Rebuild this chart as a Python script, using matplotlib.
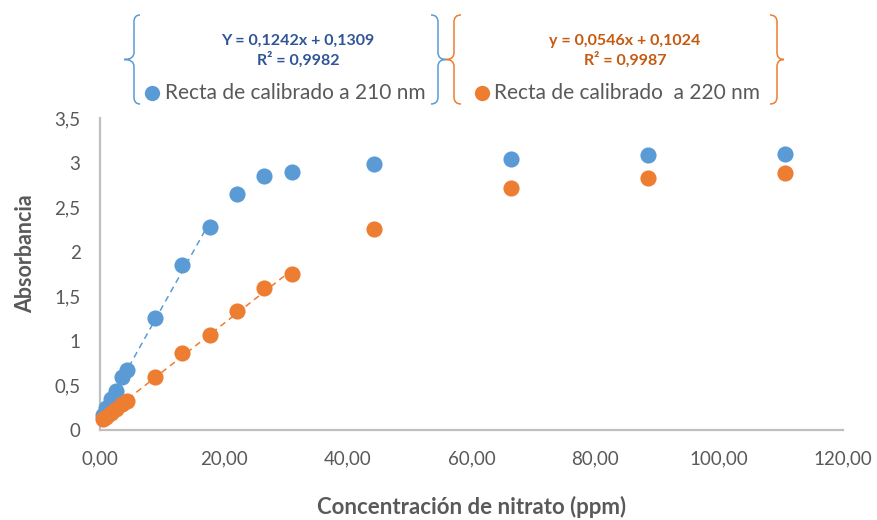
import matplotlib
matplotlib.use("Agg")
import matplotlib.pyplot as plt
from matplotlib.path import Path
from matplotlib.patches import PathPatch
from matplotlib.ticker import FuncFormatter, MultipleLocator
import numpy as np

plt.rcParams['font.family'] = ['Lato', 'DejaVu Sans']

# Concentración de nitrato (ppm)
conc = [0.44, 0.89, 1.77, 2.66, 3.54, 4.43, 8.85, 13.28, 17.70, 22.13,
        26.55, 30.98, 44.26, 66.39, 88.52, 110.65]
# Absorbancia a 210 nm
abs_210 = [0.17, 0.25, 0.35, 0.44, 0.59, 0.67, 1.26, 1.85, 2.28, 2.65,
           2.85, 2.89, 2.98, 3.04, 3.08, 3.10]
# Absorbancia a 220 nm
abs_220 = [0.12, 0.15, 0.19, 0.23, 0.29, 0.33, 0.60, 0.86, 1.07, 1.33,
           1.59, 1.75, 2.26, 2.71, 2.83, 2.88]

# Tramos lineales usados en cada recta de calibrado
fit_210 = (0.1242, 0.1309, 0.44, 17.70)
fit_220 = (0.0546, 0.1024, 0.44, 30.98)

eq_210 = ["Y = 0,1242x + 0,1309", "R² = 0,9982"]
eq_220 = ["y = 0,0546x + 0,1024", "R² = 0,9987"]
label_210 = "Recta de calibrado a 210 nm"
label_220 = "Recta de calibrado  a 220 nm"

BLUE = "#5B9BD5"
ORANGE = "#ED7D31"
GRAY_TXT = "#595959"
AX_GRAY = "#BFBFBF"

W, H = 878, 520
fig = plt.figure(figsize=(W / 100, H / 100), dpi=100)
ax = fig.add_axes([100 / W, 1 - 430 / H, 743 / W, 312 / H])

for (m, b, x0, x1), col in ((fit_210, BLUE), (fit_220, ORANGE)):
    xs = np.array([x0, x1])
    ax.plot(xs, m * xs + b, linestyle=(0, (4, 3)), color=col, lw=1.1, zorder=2)

ax.scatter(conc, abs_210, s=135, color=BLUE, zorder=3, linewidths=0)
ax.scatter(conc, abs_220, s=135, color=ORANGE, zorder=4, linewidths=0)

ax.set_xlim(0, 120)
ax.set_ylim(0, 3.5)
ax.xaxis.set_major_locator(MultipleLocator(20))
ax.yaxis.set_major_locator(MultipleLocator(0.5))
ax.xaxis.set_major_formatter(FuncFormatter(lambda v, p: f"{v:.2f}".replace(".", ",")))
ax.yaxis.set_major_formatter(FuncFormatter(lambda v, p: f"{v:g}".replace(".", ",")))

for s in ("top", "right"):
    ax.spines[s].set_visible(False)
for s in ("left", "bottom"):
    ax.spines[s].set_color(AX_GRAY)
    ax.spines[s].set_linewidth(1.6)
ax.tick_params(length=0, colors=GRAY_TXT, labelsize=13.5)
ax.tick_params(axis="x", pad=15)
ax.tick_params(axis="y", pad=14)
for coll in ax.collections:
    coll.set_clip_on(False)

ax.set_xlabel("Concentración de nitrato (ppm)", fontsize=16, fontweight="bold",
              color=GRAY_TXT, labelpad=20)
ax.set_ylabel("Absorbancia", fontsize=15.5, fontweight="bold", color=GRAY_TXT)
ax.yaxis.set_label_coords(-0.086, 0.565)


def px(x, y):
    return (x / W, 1 - y / H)


def brace(x_end, x_mid, x_tip, y_top, y_bot, color):
    yc = (y_top + y_bot) / 2
    r = 7
    verts = [
        (x_end, y_top), (x_mid, y_top), (x_mid, y_top + r),
        (x_mid, yc - r), (x_mid, yc), (x_tip, yc),
        (x_mid, yc), (x_mid, yc + r),
        (x_mid, y_bot - r), (x_mid, y_bot), (x_end, y_bot),
    ]
    codes = [Path.MOVETO, Path.CURVE3, Path.CURVE3,
             Path.LINETO, Path.CURVE3, Path.CURVE3,
             Path.CURVE3, Path.CURVE3,
             Path.LINETO, Path.CURVE3, Path.CURVE3]
    path = Path([px(*v) for v in verts], codes)
    fig.add_artist(PathPatch(path, fill=False, edgecolor=color, lw=1.1,
                             transform=fig.transFigure))


y_top, y_bot = 15, 104
brace(140, 134, 124, y_top, y_bot, BLUE)
brace(431, 438, 446, y_top, y_bot, BLUE)
brace(461, 454, 446, y_top, y_bot, ORANGE)
brace(770, 777, 784, y_top, y_bot, ORANGE)

for lines, cx, col in ((eq_210, 298, "#2F5597"), (eq_220, 625, "#C55A11")):
    fig.text(*px(cx, 41), lines[0], ha="center", va="center", fontsize=11.5,
             fontweight="bold", color=col)
    fig.text(*px(cx, 60), lines[1], ha="center", va="center", fontsize=11.5,
             fontweight="bold", color=col)

for mx, tx, lab, col in ((152, 165, label_210, BLUE), (482, 494, label_220, ORANGE)):
    fig.add_artist(plt.Line2D([mx / W], [1 - 93 / H], marker="o", markersize=11,
                              color=col, markeredgewidth=0, transform=fig.transFigure))
    fig.text(*px(tx, 93), lab, ha="left", va="center", fontsize=15, color=GRAY_TXT)

fig.savefig("out.png", dpi=100)
